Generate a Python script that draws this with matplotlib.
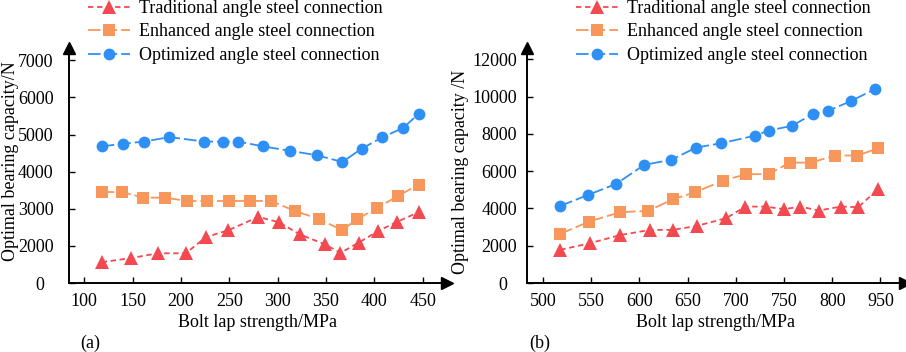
import matplotlib
matplotlib.use("Agg")
import matplotlib.pyplot as plt

plt.rcParams['font.family'] = ['Liberation Serif', 'DejaVu Serif']

# ---------------- data: panel (a) ----------------
a_trad_x = [118, 148, 176, 205, 226, 249, 280, 301, 323, 349, 365, 384, 404, 423, 446]
a_trad_y = [1560, 1670, 1800, 1800, 2240, 2420, 2780, 2640, 2310, 2040, 1810, 2090, 2400, 2640, 2910]
a_enh_x = [118, 139, 161, 183, 206, 227, 250, 271, 293, 318, 343, 367, 382, 403, 424, 446]
a_enh_y = [3450, 3450, 3300, 3300, 3210, 3210, 3210, 3210, 3210, 2940, 2720, 2420, 2720, 3020, 3340, 3650]
a_opt_x = [118, 140, 162, 188, 224, 243, 259, 285, 313, 341, 367, 387, 408, 430, 446]
a_opt_y = [4680, 4750, 4810, 4930, 4810, 4810, 4810, 4680, 4560, 4440, 4260, 4620, 4920, 5180, 5560]
a_xticks = [100, 150, 200, 250, 300, 350, 400, 450]
a_xticklabels = ['100', '150', '200', '250', '300', '350', '400', '450']
a_yticks = [1000, 2000, 3000, 4000, 5000, 6000, 7000]
a_yticklabels = ['0  ', '2000', '3000', '4000', '5000', '6000', '7000']

# ---------------- data: panel (b) ----------------
b_trad_x = [518, 549, 580, 611, 635, 660, 690, 710, 731, 750, 767, 786, 809, 827, 848]
b_trad_y = [1780, 2140, 2570, 2850, 2850, 3070, 3480, 4100, 4100, 3960, 4100, 3890, 4100, 4070, 5050]
b_enh_x = [518, 548, 580, 609, 635, 658, 687, 711, 734, 756, 778, 803, 826, 848]
b_enh_y = [2640, 3300, 3800, 3870, 4500, 4870, 5500, 5840, 5840, 6460, 6460, 6840, 6840, 7230]
b_opt_x = [518, 547, 576, 605, 633, 659, 685, 720, 734, 758, 780, 796, 819, 844]
b_opt_y = [4140, 4730, 5320, 6340, 6610, 7270, 7500, 7910, 8180, 8430, 9070, 9250, 9750, 10400]
b_xticks = [500, 550, 600, 650, 700, 750, 800, 850]
b_xticklabels = ['500', '550', '600', '650', '700', '750', '800', '950']
b_yticks = [0, 2000, 4000, 6000, 8000, 10000, 12000]
b_yticklabels = ['0  ', '2000', '4000', '6000', '8000', '10000', '12000']

labels = ['Traditional angle steel connection',
          'Enhanced angle steel connection',
          'Optimized angle steel connection']

RED = '#f24a50'
ORANGE = '#f7975c'
BLUE = '#2e90f5'
FS = 13

W, H = 906, 352
fig = plt.figure(figsize=(W / 100, H / 100), dpi=100)


def px_axes(left, right, bottom, top):
    return fig.add_axes([left / W, 1 - bottom / H, (right - left) / W, (bottom - top) / H])


def style_axes(ax, xticks, xtl, yticks, ytl, xlim, ylim, ypad):
    ax.set_xlim(*xlim)
    ax.set_ylim(*ylim)
    for s in ['top', 'right']:
        ax.spines[s].set_visible(False)
    for s in ['left', 'bottom']:
        ax.spines[s].set_linewidth(1.4)
    ax.set_xticks(xticks)
    ax.set_xticklabels(xtl)
    ax.set_yticks(yticks)
    ax.set_yticklabels(ytl)
    ax.tick_params(axis='x', direction='in', length=4, width=1.0, pad=7, labelsize=FS)
    ax.tick_params(axis='y', direction='in', length=4, width=1.0, pad=ypad, labelsize=FS)
    ax.patch.set_alpha(0)
    # arrow heads
    ax.plot(1, 0, '>', color='black', markersize=9, transform=ax.transAxes, clip_on=False)
    ax.plot(0, 1, '^', color='black', markersize=9, transform=ax.transAxes, clip_on=False)


def draw_series(ax, tx, ty, ex, ey, ox, oy):
    l1, = ax.plot(tx, ty, color=RED, lw=1.3, dashes=(3, 2), marker='^', markersize=10,
                  markeredgewidth=0, label=labels[0])
    l2, = ax.plot(ex, ey, color=ORANGE, lw=1.3, dashes=(7, 2.2), marker='s', markersize=8.5,
                  markeredgewidth=0, label=labels[1])
    l3, = ax.plot(ox, oy, color=BLUE, lw=1.3, dashes=(7, 2.2), marker='o', markersize=8.5,
                  markeredgewidth=0, label=labels[2])
    return [l1, l2, l3]


# panel (a)
axa = px_axes(69, 447, 283, 48)
hs = draw_series(axa, a_trad_x, a_trad_y, a_enh_x, a_enh_y, a_opt_x, a_opt_y)
style_axes(axa, a_xticks, a_xticklabels, a_yticks, a_yticklabels,
           (84.2, 475.2), (1000, 7330), 11)
axa.set_xlabel('Bolt lap strength/MPa', fontsize=FS, labelpad=3)
axa.set_ylabel('Optimal bearing capacity/N', fontsize=FS)
axa.yaxis.set_label_coords((19 - 69) / 378, (283 - 161) / 235)
fig.legend(handles=hs, loc='upper left', bbox_to_anchor=(88 / W, 1 + 0 / H),
           frameon=False, fontsize=FS, handlelength=2.3, handletextpad=0.55,
           labelspacing=0.36, borderpad=0, borderaxespad=0)
fig.text(80 / W, 1 - 343 / H, '(a)', fontsize=FS, va='center', ha='left')

# panel (b)
axb = px_axes(526.7, 905, 283, 48)
hs = draw_series(axb, b_trad_x, b_trad_y, b_enh_x, b_enh_y, b_opt_x, b_opt_y)
style_axes(axb, b_xticks, b_xticklabels, b_yticks, b_yticklabels,
           (483.1, 875.5), (0, 12610), 7)
axb.set_xlabel('Bolt lap strength/MPa', fontsize=FS, labelpad=3)
axb.set_ylabel('Optimal bearing capacity /N', fontsize=FS)
axb.yaxis.set_label_coords((469 - 526.7) / 378.3, (283 - 172) / 235)
fig.legend(handles=hs, loc='upper left', bbox_to_anchor=(576 / W, 1 + 0 / H),
           frameon=False, fontsize=FS, handlelength=2.3, handletextpad=0.55,
           labelspacing=0.36, borderpad=0, borderaxespad=0)
fig.text(529 / W, 1 - 343 / H, '(b)', fontsize=FS, va='center', ha='left')

fig.savefig('out.png', dpi=100)
